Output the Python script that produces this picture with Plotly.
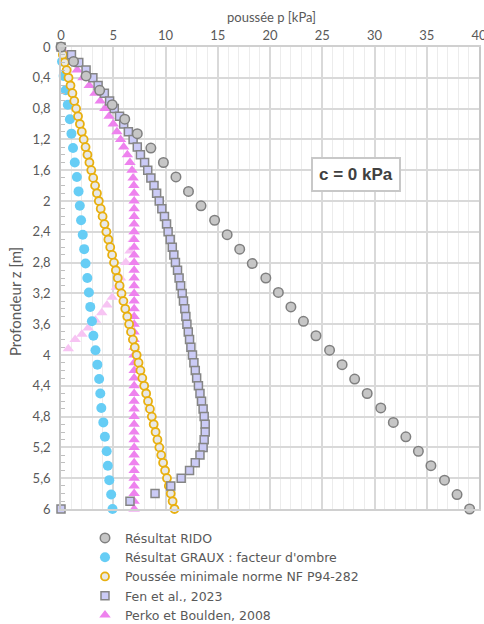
import plotly.graph_objects as go

# depths (m)
depth_coarse = [0.0, 0.1875, 0.375, 0.5625, 0.75, 0.9375, 1.125, 1.3125, 1.5, 1.6875,
                1.875, 2.0625, 2.25, 2.4375, 2.625, 2.8125, 3.0, 3.1875, 3.375, 3.5625,
                3.75, 3.9375, 4.125, 4.3125, 4.5, 4.6875, 4.875, 5.0625, 5.25, 5.4375,
                5.625, 5.8125, 6.0]
depth_fine = [0.0, 0.1, 0.2, 0.3, 0.4, 0.5, 0.6, 0.7, 0.8, 0.9,
              1.0, 1.1, 1.2, 1.3, 1.4, 1.5, 1.6, 1.7, 1.8, 1.9,
              2.0, 2.1, 2.2, 2.3, 2.4, 2.5, 2.6, 2.7, 2.8, 2.9,
              3.0, 3.1, 3.2, 3.3, 3.4, 3.5, 3.6, 3.7, 3.8, 3.9,
              4.0, 4.1, 4.2, 4.3, 4.4, 4.5, 4.6, 4.7, 4.8, 4.9,
              5.0, 5.1, 5.2, 5.3, 5.4, 5.5, 5.6, 5.7, 5.8, 5.9, 6.0]

# pressures (kPa)
p_rido = [0.0, 1.2, 2.4, 3.7, 4.9, 6.1, 7.3, 8.6, 9.8, 11.0,
          12.2, 13.4, 14.7, 15.9, 17.1, 18.3, 19.6, 20.8, 22.0, 23.2,
          24.4, 25.7, 26.9, 28.1, 29.3, 30.6, 31.8, 33.0, 34.2, 35.4,
          36.7, 37.9, 39.1]
p_graux = [0.0, 0.1, 0.25, 0.45, 0.65, 0.85, 1.0, 1.15, 1.32, 1.52,
           1.68, 1.8, 1.92, 2.08, 2.22, 2.35, 2.52, 2.67, 2.8, 2.96,
           3.1, 3.3, 3.48, 3.65, 3.76, 3.86, 4.05, 4.2, 4.37, 4.48,
           4.62, 4.8, 4.93]
p_norme = [0.00, 0.18, 0.36, 0.54, 0.72, 0.91, 1.09, 1.27, 1.45, 1.63,
           1.81, 1.99, 2.17, 2.35, 2.53, 2.72, 2.90, 3.08, 3.26, 3.44,
           3.62, 3.80, 3.98, 4.16, 4.34, 4.53, 4.71, 4.89, 5.07, 5.25,
           5.43, 5.61, 5.79, 5.97, 6.15, 6.34, 6.52, 6.70, 6.88, 7.06,
           7.24, 7.42, 7.60, 7.78, 7.96, 8.15, 8.33, 8.51, 8.69, 8.87,
           9.05, 9.23, 9.41, 9.59, 9.77, 9.96, 10.14, 10.32, 10.50, 10.68, 10.86]
p_fen = [0.0, 1.0, 1.7, 2.4, 3.05, 3.55, 4.15, 4.65, 5.1, 5.6,
         6.0, 6.45, 6.9, 7.3, 7.6, 8.0, 8.3, 8.6, 8.9, 9.15,
         9.4, 9.65, 9.9, 10.1, 10.25, 10.45, 10.65, 10.8, 10.95, 11.15,
         11.3, 11.45, 11.6, 11.72, 11.85, 11.95, 12.05, 12.18, 12.3, 12.43,
         12.58, 12.72, 12.85, 12.98, 13.15, 13.3, 13.45, 13.6, 13.7, 13.8,
         13.8, 13.7, 13.6, 13.3, 12.85, 12.3, 11.5, 10.5, 9.0, 6.6, 0.0]
p_perko = [0.0, 0.5, 1.0, 1.55, 2.1, 2.7, 3.25, 3.75, 4.2, 4.6,
           5.0, 5.35, 5.7, 6.0, 6.35, 6.6, 6.8, 6.9, 6.97, 7.0,
           7.0, 7.0, 7.0, 7.0, 7.0, 7.0, 7.0, 7.0, 7.0, 7.0,
           7.0, 7.0, 7.0, 7.0, 7.0, 7.0, 7.0, 7.0, 7.0, 7.0,
           7.0, 7.0, 7.0, 7.0, 7.0, 7.0, 7.0, 7.0, 7.0, 7.0,
           7.0, 7.0, 7.0, 7.0, 7.0, 7.0, 7.0, 7.0, 7.0, 7.0, 7.0]
# second (light) branch of Perko et Boulden
p_perko_b = [7.0, 6.9, 6.6, 6.2, 5.7, 5.3, 4.9, 4.4, 3.9, 3.3, 2.6, 2.0, 1.35, 0.7]
z_perko_b = [2.4, 2.5, 2.65, 2.8, 3.0, 3.12, 3.25, 3.35, 3.45, 3.55, 3.65, 3.73, 3.8, 3.92]

names = ["Résultat RIDO", "Résultat GRAUX : facteur d'ombre",
         "Poussée minimale norme NF P94-282", "Fen et al., 2023",
         "Perko et Boulden, 2008"]

FONT = "Lato, 'Open Sans', sans-serif"
LEG_FONT = "'DejaVu Sans', sans-serif"
GREY_TXT = "#595959"

fig = go.Figure()
fig.add_trace(go.Scatter(x=p_perko_b, y=z_perko_b, mode="markers", showlegend=False,
                         marker=dict(symbol="triangle-up", size=10, color="#f7c4f3"),
                         cliponaxis=False, hoverinfo="skip"))
fig.add_trace(go.Scatter(x=p_perko, y=depth_fine, mode="markers", name=names[4], legendrank=5,
                         marker=dict(symbol="triangle-up", size=10, color="#ee82ee"),
                         cliponaxis=False))
fig.add_trace(go.Scatter(x=p_graux, y=depth_coarse, mode="markers", name=names[1], legendrank=2,
                         marker=dict(symbol="circle", size=10, color="#66cdf5"),
                         cliponaxis=False))
fig.add_trace(go.Scatter(x=p_norme, y=depth_fine, mode="markers", name=names[2], legendrank=3,
                         marker=dict(symbol="circle", size=8, color="#e8e8e8",
                                     line=dict(color="#e8b010", width=1.8)),
                         cliponaxis=False))
fig.add_trace(go.Scatter(x=p_fen, y=depth_fine, mode="markers", name=names[3], legendrank=4,
                         marker=dict(symbol="square", size=8, color="#cbcbf6",
                                     line=dict(color="#858585", width=1.5)),
                         cliponaxis=False))
fig.add_trace(go.Scatter(x=p_rido, y=depth_coarse, mode="markers", name=names[0], legendrank=1,
                         marker=dict(symbol="circle", size=9.5, color="#c6c6c6",
                                     line=dict(color="#7f7f7f", width=1.5)),
                         cliponaxis=False))

fig.add_annotation(x=28.2, y=1.66, xref="x", yref="y", text="<b>c = 0 kPa</b>",
                   showarrow=False,
                   font=dict(family="'Liberation Sans', Arial, sans-serif", size=17, color="#404040"),
                   bgcolor="white", bordercolor="#c8c8c8", borderwidth=2, borderpad=6)
# axis titles
fig.add_annotation(x=0.504, y=1.0, xref="paper", yref="paper", yshift=30,
                   xanchor="center", yanchor="middle",
                   text="poussée p [kPa]", showarrow=False,
                   font=dict(family=FONT, size=13, color=GREY_TXT))
fig.add_annotation(x=-0.11, y=0.448, xref="paper", yref="paper", textangle=-90,
                   xanchor="center", yanchor="middle",
                   text="Profondeur z [m]", showarrow=False,
                   font=dict(family=FONT, size=15, color=GREY_TXT))

fig.update_layout(
    width=484, height=624,
    margin=dict(l=61, r=5, t=47, b=115, autoexpand=False),
    paper_bgcolor="white", plot_bgcolor="white",
    separators=", ",
    font=dict(family=FONT, size=13, color=GREY_TXT),
    legend=dict(x=0.0574, y=-0.031, xanchor="left", yanchor="top",
                font=dict(family=LEG_FONT, size=12.5, color=GREY_TXT),
                itemwidth=30, tracegroupgap=0, bgcolor="rgba(0,0,0,0)"),
    xaxis=dict(side="top", range=[0, 40], dtick=5, tick0=0,
               showgrid=True, gridcolor="#d9d9d9", gridwidth=1.5,
               minor=dict(dtick=1, showgrid=True, gridcolor="#ececec", gridwidth=1),
               showline=True, linecolor="#d0d0d0", linewidth=1.5, mirror=True,
               ticks="", tickfont=dict(size=13, color=GREY_TXT),
               ticklabeloverflow="allow",
               zeroline=False),
    yaxis=dict(range=[6, 0], dtick=0.4, tick0=0,
               showgrid=True, gridcolor="#d9d9d9", gridwidth=1.5,
               minor=dict(dtick=0.1, ticks="inside", ticklen=4, tickcolor="#bfbfbf", showgrid=False),
               showline=True, linecolor="#c8c8c8", linewidth=1.5, mirror=True,
               ticks="", tickfont=dict(size=13, color=GREY_TXT), ticklabelstandoff=6,
               zeroline=False),
)

fig.write_html("out.html")
